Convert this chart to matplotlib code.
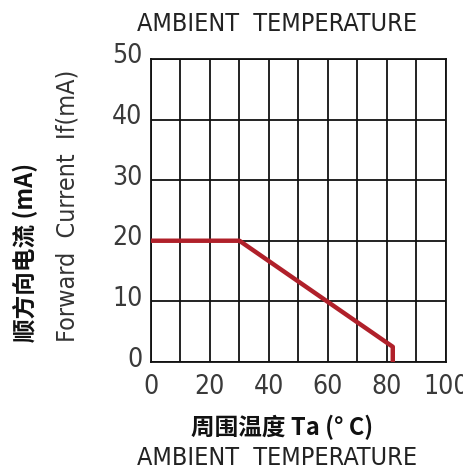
import numpy as np
import matplotlib.pyplot as plt

# derating curve: forward current vs ambient temperature
temp = [0, 30, 82, 82]
current = [20, 20, 2.5, 0]

xticks = [0, 20, 40, 60, 80, 100]
xlabels = ['0', '20', '40', '60', '80', '100']
yticks = [0, 10, 20, 30, 40, 50]

narrow = ['DejaVu Sans']
cjk = ['Noto Sans CJK SC', 'DejaVu Sans']

fig = plt.figure(figsize=(4.63, 4.75), dpi=100)
ax = fig.add_axes([0.326, 0.238, 0.637, 0.638])

ax.plot(temp, current, color='#b0202a', lw=3.2, solid_capstyle='butt', zorder=3)

ax.set_xlim(0, 100)
ax.set_ylim(0, 50)
ax.set_xticks(np.arange(0, 101, 10))
ax.set_yticks(np.arange(0, 51, 10))
ax.grid(True, color='#111111', lw=1.3)
ax.tick_params(length=0, labelbottom=False, labelleft=False)
for s in ax.spines.values():
    s.set_linewidth(1.3)
    s.set_color('#111111')

# tick labels as text so they sit like the scanned ones
for v, lab in zip(xticks, xlabels):
    ax.text(v, -4.2, lab, ha='center', va='center', fontsize=19, color='#3a3a3a',
            family=narrow, fontstretch='condensed', clip_on=False)
for v in yticks:
    ax.text(-2.9, v + 0.4, str(v), ha='right', va='center', fontsize=19, color='#3a3a3a',
            family=narrow, fontstretch='condensed', clip_on=False)

fig.text(0.598, 0.95, 'AMBIENT  TEMPERATURE', ha='center', va='center',
         fontsize=18, color='#222222', family=narrow, fontstretch='condensed')
fig.text(0.61, 0.101, '周围温度 Ta (° C)', ha='center', va='center',
         fontsize=17, fontweight='bold', color='#111111', family=cjk)
fig.text(0.598, 0.036, 'AMBIENT  TEMPERATURE', ha='center', va='center',
         fontsize=18, color='#222222', family=narrow, fontstretch='condensed')
fig.text(0.145, 0.566, 'Forward  Current  If(mA)', ha='center', va='center',
         rotation=90, fontsize=18, color='#333333', family=narrow, fontstretch='condensed')
fig.text(0.054, 0.468, '顺方向电流 (mA)', ha='center', va='center',
         rotation=90, fontsize=17, fontweight='bold', color='#111111', family=cjk)

fig.savefig('out.png', dpi=100)
